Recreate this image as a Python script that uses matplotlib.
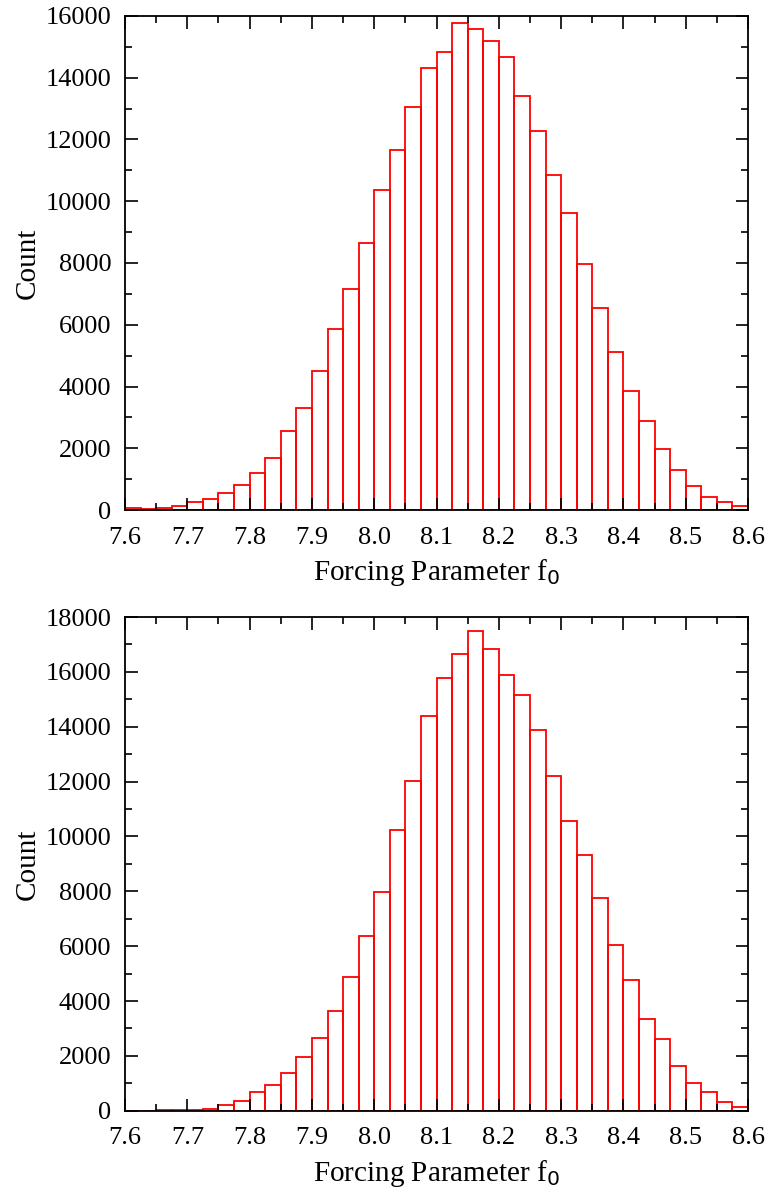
import numpy as np
import matplotlib
matplotlib.use('Agg')
import matplotlib.pyplot as plt
from matplotlib.ticker import MultipleLocator

plt.rcParams['font.family'] = ['Liberation Serif', 'DejaVu Serif']

# bin edges 7.6 .. 8.6, width 0.025 (40 bins)
bin_left = 7.6 + 0.025 * np.arange(40)
bin_width = 0.025

counts_top = [50, 30, 75, 130, 270, 370, 540, 800, 1190, 1670,
              2570, 3315, 4515, 5860, 7145, 8660, 10375, 11660, 13040, 14330,
              14845, 15780, 15580, 15200, 14660, 13410, 12265, 10860, 9610, 7980,
              6555, 5120, 3865, 2890, 1985, 1295, 777, 430, 260, 130]

counts_bottom = [0, 0, 10, 10, 30, 70, 215, 350, 690, 945,
                 1370, 1965, 2660, 3640, 4870, 6370, 7985, 10235, 12010, 14380,
                 15790, 16660, 17490, 16845, 15885, 15155, 13870, 12215, 10575, 9320,
                 7745, 6030, 4755, 3355, 2600, 1630, 1010, 670, 317, 135]

fig = plt.figure(figsize=(7.68, 11.9), dpi=100)
ax1 = fig.add_axes([0.1628, 0.5714, 0.8112, 0.4152])
ax2 = fig.add_axes([0.1628, 0.0666, 0.8112, 0.4149])

for ax, counts, ymax in [(ax1, counts_top, 16000), (ax2, counts_bottom, 18000)]:
    ax.bar(bin_left, counts, width=bin_width, align='edge', fill=False,
           edgecolor='#ff0000', linewidth=1.3)
    ax.set_xlim(7.6, 8.6)
    ax.set_ylim(0, ymax)
    ax.xaxis.set_major_locator(MultipleLocator(0.1))
    ax.xaxis.set_minor_locator(MultipleLocator(0.05))
    ax.yaxis.set_major_locator(MultipleLocator(2000))
    ax.yaxis.set_minor_locator(MultipleLocator(1000))
    ax.xaxis.set_major_formatter(plt.FormatStrFormatter('%.1f'))
    ax.tick_params(axis='both', which='major', direction='in', length=9, width=1.2,
                   top=True, right=True, labelsize=19)
    ax.tick_params(axis='x', which='major', pad=12)
    ax.tick_params(axis='y', which='major', pad=10)
    ax.tick_params(axis='both', which='minor', direction='in', length=5, width=1.2,
                   top=True, right=True)
    for s in ax.spines.values():
        s.set_linewidth(1.3)
    ax.set_xlabel('Forcing Parameter f$_0$', fontsize=21, labelpad=6)
    ax.set_ylabel('Count', fontsize=21, labelpad=3)

fig.savefig('out.png', dpi=100)
